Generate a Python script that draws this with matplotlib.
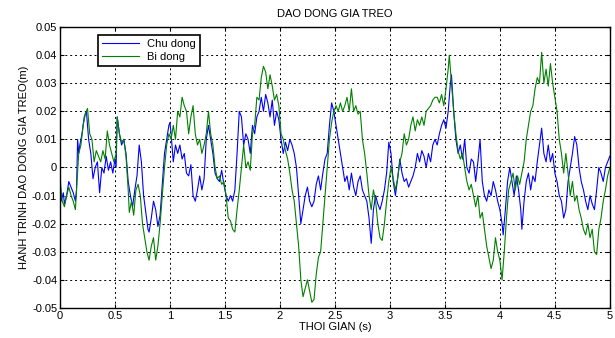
import matplotlib
matplotlib.use('Agg')
import matplotlib.pyplot as plt

plt.rcParams['font.family'] = ['Liberation Sans', 'DejaVu Sans']

# Chu dong (blue)
t_chu = [0, 0.01, 0.03, 0.04, 0.06, 0.08, 0.10, 0.12, 0.14, 0.15, 0.16, 0.17, 0.18, 0.20, 0.22, 0.24,
         0.26, 0.28, 0.30, 0.32, 0.34, 0.36, 0.38, 0.40, 0.42, 0.44, 0.46, 0.48, 0.50, 0.51, 0.52,
         0.54, 0.56, 0.58, 0.60, 0.62, 0.64, 0.66, 0.68, 0.70, 0.72, 0.74, 0.76, 0.78, 0.80, 0.81,
         0.83, 0.85, 0.87, 0.89, 0.91, 0.93, 0.95, 0.97, 0.99, 1.00, 1.01, 1.03, 1.05, 1.07, 1.09,
         1.11, 1.13, 1.15, 1.17, 1.19, 1.21, 1.23, 1.25, 1.27, 1.29, 1.31, 1.33, 1.35, 1.37, 1.39,
         1.41, 1.43, 1.45, 1.47, 1.49, 1.51, 1.53, 1.55, 1.57, 1.59, 1.61, 1.63, 1.65, 1.67, 1.69,
         1.71, 1.73, 1.75, 1.77, 1.79, 1.81, 1.83, 1.85, 1.87, 1.89, 1.91, 1.93, 1.95, 1.97, 1.99,
         2.01, 2.03, 2.05, 2.07, 2.09, 2.11, 2.13, 2.15, 2.17, 2.19, 2.21, 2.23, 2.25, 2.27, 2.29,
         2.31, 2.33, 2.35, 2.37, 2.39, 2.41, 2.43, 2.45, 2.47, 2.49, 2.51, 2.53, 2.55, 2.57, 2.59,
         2.61, 2.63, 2.65, 2.67, 2.69, 2.71, 2.73, 2.75, 2.77, 2.79, 2.81, 2.83, 2.85, 2.87, 2.89,
         2.91, 2.93, 2.95, 2.97, 2.99, 3.01, 3.03, 3.05, 3.07, 3.09, 3.11, 3.13, 3.15, 3.17, 3.19,
         3.21, 3.23, 3.25, 3.27, 3.29, 3.31, 3.33, 3.35, 3.37, 3.39, 3.41, 3.43, 3.45, 3.47, 3.49,
         3.51, 3.53, 3.55, 3.56, 3.58, 3.60, 3.62, 3.64, 3.66, 3.68, 3.70, 3.72, 3.74, 3.76, 3.78,
         3.80, 3.82, 3.84, 3.86, 3.88, 3.90, 3.92, 3.94, 3.96, 3.98, 4.00, 4.02, 4.03, 4.05, 4.07,
         4.09, 4.11, 4.13, 4.15, 4.17, 4.19, 4.20, 4.22, 4.24, 4.26, 4.28, 4.30, 4.32, 4.34, 4.36,
         4.38, 4.40, 4.42, 4.44, 4.46, 4.48, 4.50, 4.52, 4.54, 4.56, 4.58, 4.60, 4.62, 4.64, 4.66,
         4.68, 4.70, 4.72, 4.74, 4.76, 4.78, 4.80, 4.82, 4.84, 4.86, 4.88, 4.90, 4.92, 4.94, 4.96,
         4.98, 5.00]
chu_dong = [0.0, -0.012, -0.009, -0.013, -0.010, -0.005, -0.007, -0.009, -0.012, -0.008, 0.010, 0.005,
            0.008, 0.012, 0.018, 0.020, 0.010, 0.005, -0.004, 0.0, 0.002, -0.009, 0.0, -0.002, 0.004,
            -0.001, 0.002, -0.002, 0.003, 0.0, 0.018, 0.012, 0.008, 0.010, 0.005, -0.005, -0.010,
            -0.014, -0.008, -0.003, 0.008, 0.002, -0.010, -0.016, -0.022, -0.023, -0.018, -0.012,
            -0.015, -0.021, -0.017, -0.006, 0.005, 0.010, 0.015, 0.016, 0.012, 0.002, 0.008, 0.005,
            0.008, 0.003, 0.005, -0.002, -0.003, 0.001, -0.010, -0.012, -0.008, -0.003, -0.008,
            -0.004, 0.010, 0.015, 0.010, 0.005, -0.002, -0.004, -0.005, -0.001, -0.006, -0.010,
            -0.012, -0.010, -0.012, -0.008, 0.005, 0.020, 0.018, 0.008, 0.012, 0.010, 0.005, 0.015,
            0.012, 0.018, 0.020, 0.025, 0.020, 0.026, 0.023, 0.018, 0.024, 0.015, 0.020, 0.017,
            0.010, 0.005, 0.009, 0.006, 0.010, 0.008, 0.005, 0.0, -0.010, -0.020, -0.015, -0.010,
            -0.007, -0.012, -0.014, -0.012, -0.006, -0.003, -0.008, -0.002, 0.003, 0.005, 0.015,
            0.023, 0.020, 0.015, 0.010, 0.005, 0.0, -0.005, -0.003, -0.008, -0.002, -0.007, -0.010,
            -0.005, -0.003, -0.008, -0.010, -0.012, -0.018, -0.027, -0.015, -0.010, -0.013, -0.015,
            -0.012, -0.008, -0.002, 0.009, 0.005, -0.005, -0.010, -0.004, 0.003, -0.002, -0.005,
            -0.004, -0.007, -0.005, -0.003, 0.0, 0.005, 0.002, 0.006, 0.004, 0.0, 0.005, 0.002,
            0.008, 0.010, 0.008, 0.012, 0.015, 0.017, 0.014, 0.020, 0.030, 0.033, 0.020, 0.010,
            0.005, 0.008, 0.003, 0.010, 0.0, -0.002, 0.003, 0.002, -0.005, 0.002, 0.010, -0.005,
            -0.010, -0.012, -0.008, -0.010, -0.005, -0.008, -0.012, -0.015, -0.020, -0.024, -0.015,
            -0.005, 0.0, -0.005, -0.010, -0.003, -0.008, -0.015, -0.022, -0.012, -0.005, -0.002,
            -0.008, -0.003, -0.005, 0.002, 0.008, 0.014, 0.005, 0.002, 0.008, 0.002, 0.005, -0.002,
            -0.005, -0.010, -0.012, -0.018, -0.015, -0.005, 0.0, 0.005, 0.011, 0.008, 0.0, -0.005,
            -0.008, -0.012, -0.015, -0.010, -0.013, -0.015, -0.008, 0.0, -0.002, -0.005, 0.0, 0.002,
            0.004]

# Bi dong (green)
t_bi = [0, 0.02, 0.04, 0.06, 0.08, 0.10, 0.12, 0.14, 0.15, 0.17, 0.19, 0.21, 0.23, 0.25, 0.27, 0.29,
        0.31, 0.33, 0.35, 0.37, 0.39, 0.41, 0.43, 0.45, 0.47, 0.49, 0.51, 0.52, 0.54, 0.56, 0.58,
        0.60, 0.62, 0.63, 0.65, 0.67, 0.69, 0.71, 0.73, 0.75, 0.77, 0.79, 0.81, 0.83, 0.85, 0.87,
        0.89, 0.91, 0.93, 0.95, 0.97, 0.99, 1.01, 1.03, 1.05, 1.07, 1.09, 1.11, 1.13, 1.15, 1.17,
        1.19, 1.21, 1.23, 1.25, 1.27, 1.29, 1.31, 1.33, 1.35, 1.37, 1.39, 1.41, 1.43, 1.45, 1.47,
        1.49, 1.51, 1.53, 1.55, 1.57, 1.59, 1.61, 1.63, 1.65, 1.67, 1.69, 1.71, 1.73, 1.75, 1.77,
        1.79, 1.81, 1.83, 1.85, 1.87, 1.89, 1.91, 1.93, 1.95, 1.97, 1.99, 2.01, 2.03, 2.05, 2.07,
        2.09, 2.11, 2.13, 2.15, 2.17, 2.19, 2.21, 2.23, 2.25, 2.27, 2.29, 2.31, 2.33, 2.35, 2.37,
        2.39, 2.41, 2.43, 2.45, 2.47, 2.49, 2.51, 2.53, 2.55, 2.57, 2.59, 2.61, 2.63, 2.65, 2.67,
        2.69, 2.71, 2.73, 2.75, 2.77, 2.79, 2.81, 2.83, 2.85, 2.87, 2.89, 2.91, 2.93, 2.95, 2.97,
        2.99, 3.01, 3.03, 3.05, 3.07, 3.09, 3.11, 3.13, 3.15, 3.17, 3.19, 3.21, 3.23, 3.25, 3.27,
        3.29, 3.31, 3.33, 3.35, 3.37, 3.39, 3.41, 3.43, 3.45, 3.47, 3.49, 3.51, 3.53, 3.54, 3.56,
        3.58, 3.60, 3.62, 3.64, 3.66, 3.68, 3.70, 3.72, 3.74, 3.76, 3.78, 3.80, 3.82, 3.84, 3.86,
        3.88, 3.90, 3.92, 3.94, 3.96, 3.98, 4.00, 4.02, 4.04, 4.06, 4.08, 4.10, 4.12, 4.14, 4.16,
        4.18, 4.20, 4.22, 4.24, 4.26, 4.28, 4.30, 4.32, 4.34, 4.36, 4.38, 4.40, 4.42, 4.44, 4.46,
        4.48, 4.50, 4.52, 4.54, 4.56, 4.58, 4.60, 4.62, 4.64, 4.66, 4.68, 4.70, 4.72, 4.74, 4.76,
        4.78, 4.80, 4.82, 4.84, 4.86, 4.88, 4.90, 4.92, 4.94, 4.96, 4.98, 5.00]
bi_dong = [-0.005, -0.012, -0.014, -0.010, -0.007, -0.010, -0.012, -0.015, -0.008, 0.005, 0.008, 0.015,
           0.019, 0.021, 0.012, 0.010, 0.002, 0.006, 0.004, 0.002, 0.006, 0.003, 0.013, 0.008, 0.005,
           0.002, 0.005, 0.018, 0.012, 0.009, 0.010, 0.004, -0.008, -0.016, -0.012, -0.017, -0.008,
           -0.006, -0.010, -0.020, -0.025, -0.030, -0.033, -0.028, -0.025, -0.033, -0.028, -0.020,
           -0.010, 0.0, 0.008, 0.012, 0.010, 0.015, 0.010, 0.020, 0.018, 0.025, 0.022, 0.020, 0.012,
           0.018, 0.022, 0.012, 0.008, 0.010, 0.005, 0.008, 0.012, 0.020, 0.012, 0.008, 0.0, -0.004,
           -0.003, -0.006, -0.005, -0.010, -0.018, -0.019, -0.022, -0.023, -0.015, -0.008, 0.0, 0.008,
           0.0, 0.002, -0.001, 0.012, 0.015, 0.025, 0.024, 0.032, 0.036, 0.034, 0.028, 0.033, 0.029,
           0.024, 0.026, 0.022, 0.012, 0.010, 0.006, 0.003, -0.002, -0.008, -0.012, -0.020, -0.028,
           -0.040, -0.046, -0.043, -0.040, -0.044, -0.048, -0.047, -0.038, -0.032, -0.030, -0.020,
           -0.010, 0.0, 0.010, 0.016, 0.020, 0.022, 0.020, 0.023, 0.020, 0.022, 0.025, 0.020, 0.028,
           0.020, 0.022, 0.019, 0.020, 0.010, 0.005, -0.002, -0.010, -0.015, -0.008, -0.012, -0.020,
           -0.025, -0.026, -0.020, -0.012, -0.005, 0.0, -0.004, -0.008, -0.004, 0.002, 0.005, 0.012,
           0.008, 0.010, 0.015, 0.018, 0.013, 0.017, 0.015, 0.018, 0.015, 0.020, 0.021, 0.022, 0.024,
           0.025, 0.025, 0.023, 0.026, 0.022, 0.028, 0.035, 0.040, 0.030, 0.020, 0.012, 0.006, 0.003,
           0.005, 0.0, -0.005, -0.008, -0.006, -0.010, -0.014, -0.010, -0.018, -0.016, -0.022,
           -0.028, -0.032, -0.036, -0.033, -0.025, -0.030, -0.033, -0.040, -0.030, -0.018, -0.008,
           -0.005, -0.002, -0.008, -0.003, -0.006, -0.002, 0.002, 0.010, 0.015, 0.020, 0.022, 0.028,
           0.032, 0.030, 0.041, 0.030, 0.035, 0.029, 0.037, 0.030, 0.025, 0.020, 0.010, 0.005,
           -0.002, 0.005, -0.002, -0.010, -0.005, -0.012, -0.010, -0.015, -0.018, -0.022, -0.024,
           -0.020, -0.025, -0.022, -0.030, -0.031, -0.022, -0.018, -0.012, -0.008, -0.003, 0.0]

x_ticks = [0, 0.5, 1, 1.5, 2, 2.5, 3, 3.5, 4, 4.5, 5]
x_labels = ['0', '0.5', '1', '1.5', '2', '2.5', '3', '3.5', '4', '4.5', '5']
y_ticks = [-0.05, -0.04, -0.03, -0.02, -0.01, 0, 0.01, 0.02, 0.03, 0.04, 0.05]
y_labels = ['-0.05', '-0.04', '-0.03', '-0.02', '-0.01', '0', '0.01', '0.02', '0.03', '0.04', '0.05']

fig = plt.figure(figsize=(6.15, 3.38), dpi=100)
ax = fig.add_axes([0.0976, 0.089, 0.894, 0.831])

ax.plot(t_chu, chu_dong, color=(0, 0, 1), lw=0.8, label='Chu dong')
ax.plot(t_bi, bi_dong, color=(0, 0.5, 0), lw=0.8, label='Bi dong')

ax.set_xlim(0, 5)
ax.set_ylim(-0.05, 0.05)
ax.set_xticks(x_ticks)
ax.set_xticklabels(x_labels)
ax.set_yticks(y_ticks)
ax.set_yticklabels(y_labels)
ax.tick_params(direction='in', top=True, right=True, labelsize=8, length=3, pad=2)
ax.grid(True, color='black', linestyle=(0, (2, 3)), linewidth=0.7)
for s in ax.spines.values():
    s.set_linewidth(1.0)

ax.set_title('DAO DONG GIA TREO', fontsize=8, pad=7)
ax.set_xlabel('THOI GIAN (s)', fontsize=8, labelpad=1)
ax.set_ylabel('HANH TRINH DAO DONG GIA TREO(m)', fontsize=8, labelpad=2)

leg = ax.legend(loc='upper left', bbox_to_anchor=(0.069, 0.972), borderaxespad=0, fontsize=8,
                fancybox=False, framealpha=1, edgecolor='black', handlelength=3.3,
                borderpad=0.35, labelspacing=0.3)
leg.get_frame().set_linewidth(1.2)

fig.savefig('out.png', dpi=100)
